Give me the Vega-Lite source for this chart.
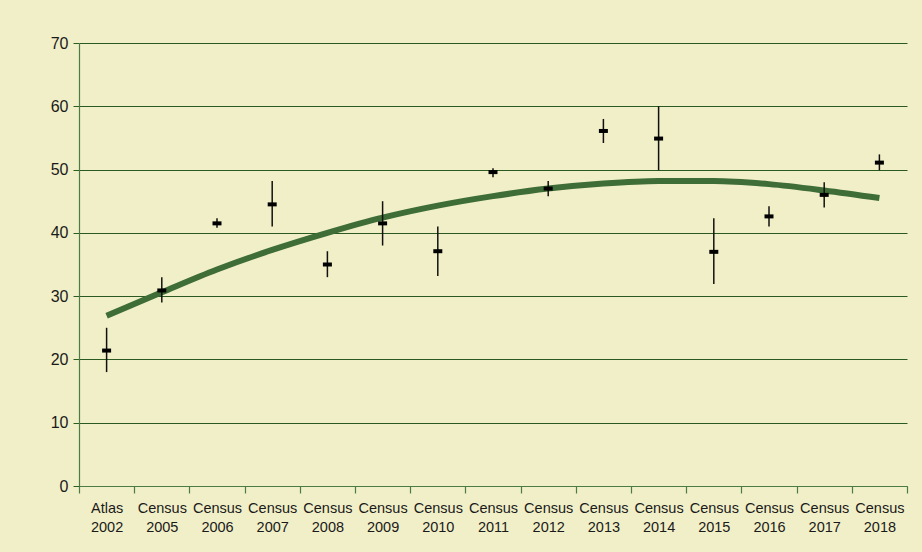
{
  "$schema": "https://vega.github.io/schema/vega-lite/v6.json",
  "width": 828,
  "height": 443,
  "autosize": {"type": "none"},
  "padding": {"left": 79, "top": 43, "right": 15, "bottom": 66},
  "background": "#f1efc7",
  "config": {
    "view": {"stroke": null},
    "font": "Liberation Sans"
  },
  "data": {
    "values": [
      {"label": "Atlas 2002", "est": 21.4, "lo": 18.0, "hi": 25.0, "fit": 26.9},
      {"label": "Census 2005", "est": 30.9, "lo": 29.0, "hi": 33.0, "fit": 30.6},
      {"label": "Census 2006", "est": 41.5, "lo": 40.8, "hi": 42.3, "fit": 34.2},
      {"label": "Census 2007", "est": 44.5, "lo": 41.0, "hi": 48.2, "fit": 37.3},
      {"label": "Census 2008", "est": 35.0, "lo": 33.0, "hi": 37.1, "fit": 40.0},
      {"label": "Census 2009", "est": 41.5, "lo": 38.0, "hi": 45.0, "fit": 42.4},
      {"label": "Census 2010", "est": 37.1, "lo": 33.2, "hi": 41.0, "fit": 44.3},
      {"label": "Census 2011", "est": 49.6, "lo": 48.8, "hi": 50.2, "fit": 45.8},
      {"label": "Census 2012", "est": 47.0, "lo": 45.8, "hi": 48.2, "fit": 47.0},
      {"label": "Census 2013", "est": 56.1, "lo": 54.2, "hi": 58.0, "fit": 47.8},
      {"label": "Census 2014", "est": 54.9, "lo": 49.9, "hi": 60.0, "fit": 48.2},
      {"label": "Census 2015", "est": 37.0, "lo": 31.9, "hi": 42.3, "fit": 48.2},
      {"label": "Census 2016", "est": 42.6, "lo": 41.0, "hi": 44.2, "fit": 47.7},
      {"label": "Census 2017", "est": 46.0, "lo": 44.0, "hi": 48.0, "fit": 46.7},
      {"label": "Census 2018", "est": 51.1, "lo": 49.9, "hi": 52.4, "fit": 45.5}
    ]
  },
  "encoding": {
    "x": {
      "field": "label",
      "type": "nominal",
      "sort": null,
      "scale": {"paddingInner": 0, "paddingOuter": 0},
      "axis": {
        "title": null,
        "labelAngle": 0,
        "labelExpr": "split(datum.label, ' ')",
        "labelFontSize": 14.5,
        "labelColor": "#1a1a1a",
        "labelLineHeight": 19,
        "labelPadding": 8,
        "tickBand": "extent",
        "tickSize": 7,
        "tickColor": "#4b7c45",
        "tickWidth": 1.2,
        "domainColor": "#4b7c45",
        "domainWidth": 1.2,
        "grid": false
      }
    }
  },
  "layer": [
    {
      "mark": {"type": "line", "color": "#3e6d37", "strokeWidth": 6, "interpolate": "monotone"},
      "encoding": {
        "y": {
          "field": "fit",
          "type": "quantitative",
          "scale": {"domain": [0, 70], "nice": false},
          "axis": {
            "title": null,
            "values": [0, 10, 20, 30, 40, 50, 60, 70],
            "labelFontSize": 16,
            "labelColor": "#1a1a1a",
            "labelPadding": 5,
            "tickSize": 6,
            "tickColor": "#2b5e22",
            "domainColor": "#4b7c45",
            "domainWidth": 1.2,
            "grid": true,
            "gridColor": "#2a5a20",
            "gridWidth": 1.2,
            "gridOpacity": 1
          }
        }
      }
    },
    {
      "mark": {"type": "rule", "color": "#111111", "strokeWidth": 1.5},
      "encoding": {
        "y": {"field": "lo", "type": "quantitative"},
        "y2": {"field": "hi"}
      }
    },
    {
      "mark": {"type": "tick", "color": "#000000", "size": 9, "thickness": 4, "orient": "horizontal", "opacity": 1},
      "encoding": {
        "y": {"field": "est", "type": "quantitative"}
      }
    }
  ]
}
